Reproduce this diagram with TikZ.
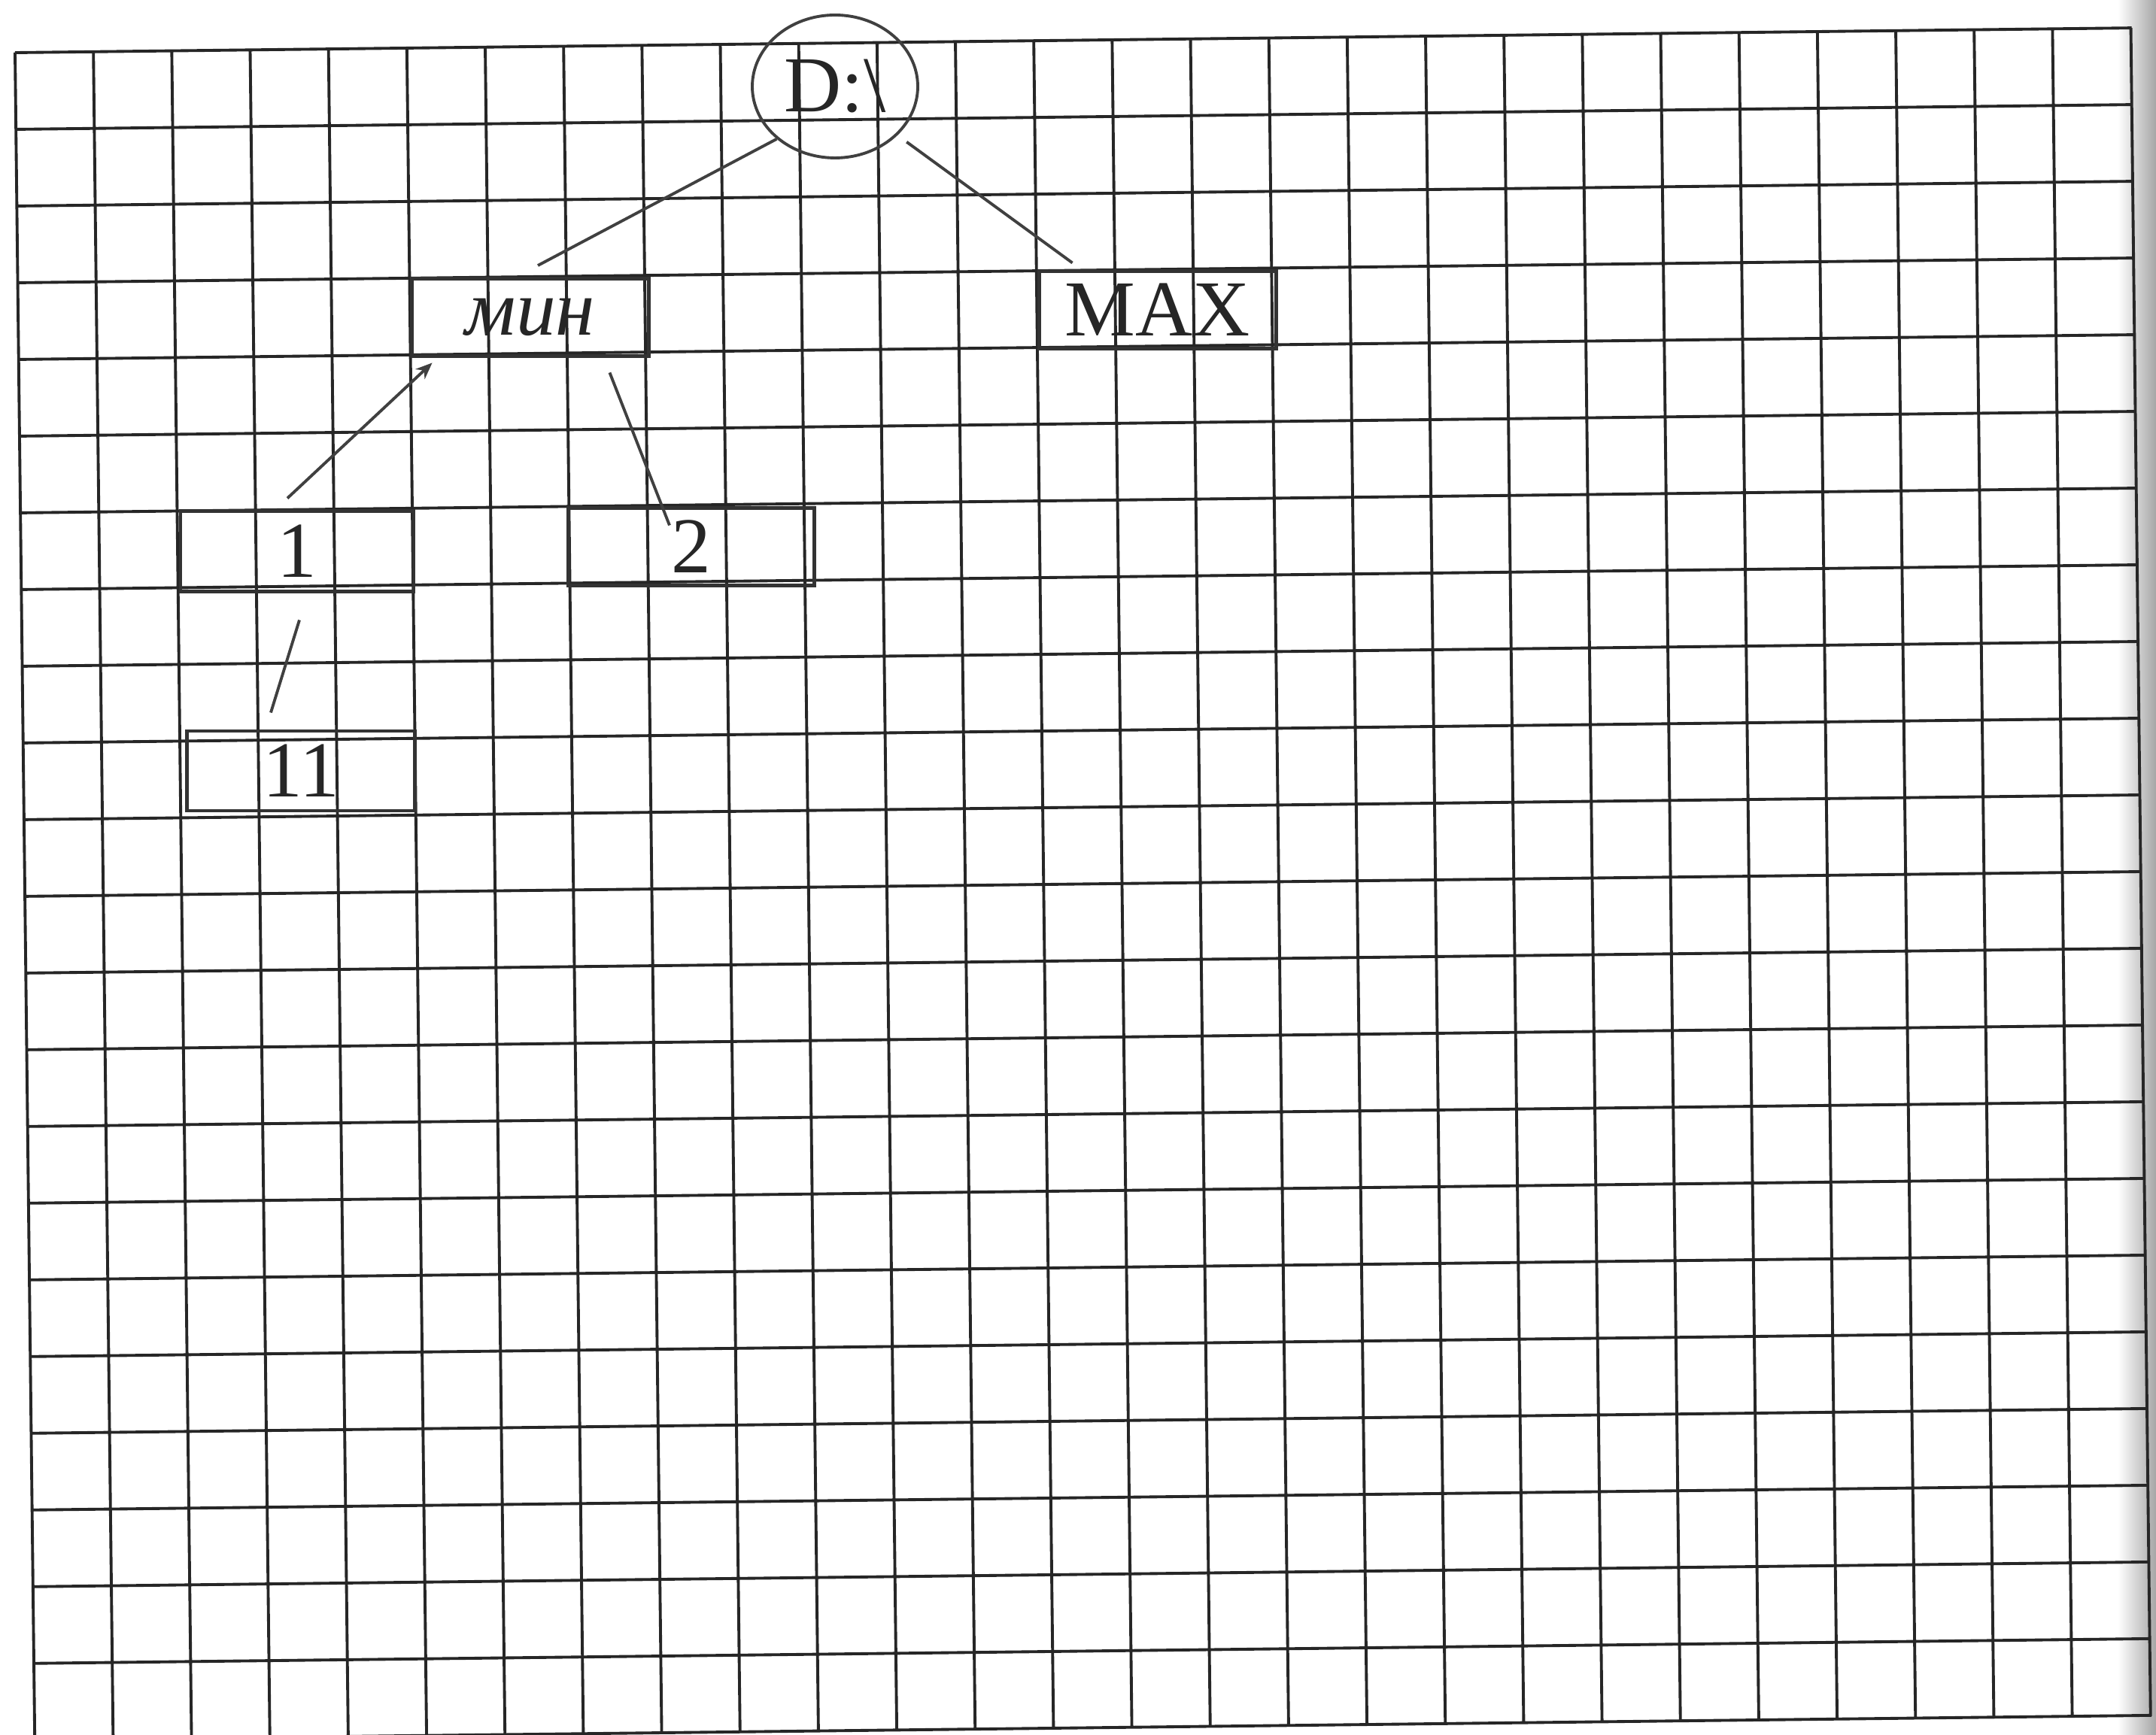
\documentclass[tikz,border=0pt]{standalone}
\usepackage{fontspec}
\setmainfont{Liberation Serif}
\usepackage{tikz}
\usetikzlibrary{arrows.meta, shapes.geometric}

\begin{document}
\begin{tikzpicture}[
  paper/.style={line width=1.1pt, black!85},
  dirbox/.style={draw, line width=1.4pt, black!80, text=black!85, minimum width=3.15cm, minimum height=1.03cm, inner sep=0pt, font=\fontsize{30}{32}\selectfont},
  disk/.style={draw, ellipse, line width=1.1pt, black!75, text=black!85, minimum width=2.2cm, minimum height=1.9cm, inner sep=0pt, font=\fontsize{30}{32}\selectfont},
  link/.style={line width=1.1pt, black!75},
  arr/.style={-{Stealth[length=2.2mm, width=1.8mm]}, line width=1.1pt, black!75}
]
\clip (0,0) rectangle (28.66,23.06);
\fill[white] (0,0) rectangle (28.66,23.06);
\shade[left color=white, right color=black!35] (28.15,0) rectangle (28.66,23.06);

% squared paper
\begin{scope}[shift={(0.20,22.36)}, rotate=0.67]
  \draw[paper, xstep=1.0418, ystep=1.02] (0,-22.45) grid (28.14,0);
\end{scope}

% disk and folders
\node[disk] (root) at (11.10,21.91) {D:\textbackslash};
\node[dirbox, font=\fontsize{30}{32}\selectfont\itshape] (min) at (7.05,18.84) {мин};
\node[dirbox] (max) at (15.39,18.94) {MAX};
\node[dirbox, minimum width=3.1cm, minimum height=1.07cm] (one) at (3.95,15.73) {1};
\node[dirbox, minimum width=3.27cm] (two) at (9.19,15.79) {2};
\node[dirbox, minimum width=3.03cm, minimum height=1.06cm] (oneone) at (4.00,12.81) {11};

% links
\draw[link] (root.222) -- ([shift={(0.1,0.15)}]min.north);
\draw[link, shorten <=0.15cm] (root.-38) -- ([shift={(0.465,0.085)}]max.north west);
\draw[link] ([shift={(-0.545,-0.195)}]min.south east) -- ([shift={(-0.29,-0.255)}]two.north);
\draw[arr] ([shift={(-0.13,0.145)}]one.north) -- ([shift={(0.295,-0.065)}]min.south west);
\draw[link] ([shift={(0.03,-0.355)}]one.south) -- ([shift={(-0.40,0.22)}]oneone.north);

\end{tikzpicture}
\end{document}
